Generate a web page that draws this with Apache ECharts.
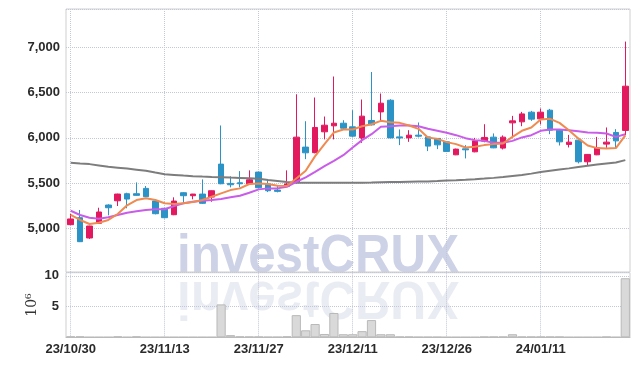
<!DOCTYPE html>
<html><head><meta charset="utf-8">
<script src="https://cdn.jsdelivr.net/npm/echarts@6/dist/echarts.min.js"></script>
<style>html,body{margin:0;padding:0;background:#fff}#c{width:639px;height:366px}</style>
</head><body><div id="c"></div>
<script>
const dates = ['23/10/30','23/10/31','23/11/01','23/11/02','23/11/03','23/11/06','23/11/07','23/11/08','23/11/09','23/11/10',
'23/11/13','23/11/14','23/11/15','23/11/16','23/11/17','23/11/20','23/11/21','23/11/22','23/11/23','23/11/24',
'23/11/27','23/11/28','23/11/29','23/11/30','23/12/01','23/12/04','23/12/05','23/12/06','23/12/07','23/12/08',
'23/12/11','23/12/12','23/12/13','23/12/14','23/12/15','23/12/18','23/12/19','23/12/20','23/12/21','23/12/22',
'23/12/26','23/12/27','23/12/28','24/01/02','24/01/03','24/01/04','24/01/05','24/01/08','24/01/09','24/01/10',
'24/01/11','24/01/12','24/01/15','24/01/16','24/01/17','24/01/18','24/01/19','24/01/22','24/01/23','24/01/24'];

const openP  = [5040,5117,4893,5055,5257,5304,5382,5382,5441,5301, 5221,5150,5393,5360,5378,5345,5709,5496,5503,5492,
                5621,5489,5422,5465,5505,5897,5836,6066,6132,6161, 6121,5999,6191,6286,6415,6010,5999,6029,6010,5993,
                5955,5812,5878,5845,5963,6007,5886,6165,6176,6283, 6209,6305,6084,5927,5974,5735,5812,5930,6059,6081];
const closeP = [5103,4852,5025,5180,5227,5378,5323,5364,5349,5161, 5117,5301,5360,5378,5276,5415,5492,5481,5492,5536,
                5448,5415,5408,5490,6007,5834,6114,6139,6161,6106, 6018,6239,6143,6382,5999,5999,6029,6018,5908,5922,
                5849,5875,5867,5966,6004,5889,6007,6187,6264,6206, 6283,6084,5955,5952,5735,5816,5889,5952,5966,6570];
const lowP   = [5035,4848,4882,5050,5143,5246,5221,5360,5345,5154, 5110,5145,5287,5320,5270,5293,5487,5452,5452,5488,
                5440,5400,5397,5460,5495,5764,5828,5982,5982,6092, 6010,5944,6136,6176,5995,5919,5955,6004,5853,5875,
                5845,5808,5772,5840,5950,5885,5871,6010,6128,6187, 6147,6040,5915,5893,5717,5690,5808,5889,5889,6029];
const highP  = [5158,5202,5028,5227,5265,5382,5393,5507,5467,5320, 5225,5342,5398,5380,5540,5418,6136,5574,5632,5640,
                5625,5533,5478,5640,6481,6183,6445,6235,6677,6194, 6305,6423,6727,6489,6426,6092,6084,6169,6015,5996,
                5960,5880,5919,5999,6150,6048,6026,6242,6286,6297, 6324,6319,6090,6032,5980,5820,6010,6114,6095,7063];

const volume = [0.15,0.15,0.02,0.02,0.02,0.15,0.02,0.15,0.02,0.02, 0.02,0.02,0.02,0.02,0.02,0.02,5.35,0.35,0.12,0.1,
                0.1,0.05,0.05,0.15,3.6,1.14,2.16,0.54,3.95,0.5, 0.5,1.0,2.8,0.5,0.5,0.1,0.1,0.05,0.05,0.05,
                0.02,0.02,0.02,0.02,0.1,0.1,0.1,0.5,0.1,0.1, 0.1,0.1,0.1,0.02,0.02,0.02,0.02,0.1,0.02,9.6];

const maShort = [5147,5092,5047,5062,5092,5158,5254,5312,5331,5312, 5276,5268,5276,5290,5312,5349,5386,5422,5441,5489,
                 5496,5489,5470,5467,5551,5635,5797,5930,6059,6092, 6092,6128,6150,6187,6172,6165,6136,6099,6004,5988,
                 5952,5930,5893,5900,5919,5930,5938,6010,6077,6114, 6202,6209,6165,6084,5993,5915,5886,5882,5886,6026];
const maMid   = [5194,5147,5117,5106,5121,5147,5172,5188,5202,5210, 5210,5246,5276,5293,5304,5312,5323,5342,5360,5393,
                 5430,5441,5441,5459,5514,5563,5624,5687,5746,5808, 5893,5974,6040,6121,6128,6136,6136,6128,6099,6077,
                 6055,6029,5996,5974,5966,5944,5944,5966,6004,6029, 6077,6092,6092,6084,6073,6059,6055,6048,6010,6040];
const maLong  = [5724,5716,5709,5695,5680,5670,5660,5648,5635,5616, 5598,5590,5582,5576,5571,5567,5564,5560,5557,5552,
                 5547,5533,5522,5511,5503,5503,5503,5503,5503,5503, 5503,5504,5505,5508,5511,5512,5514,5516,5518,5522,
                 5527,5531,5536,5542,5549,5557,5566,5577,5588,5604, 5621,5635,5649,5662,5676,5690,5704,5715,5726,5753];

const LABEL_FONT = '"Liberation Sans",Arial,sans-serif';
const UP = '#e3195f', DOWN = '#2b93c6';
const gridLine = {show:true, interval:9, alignWithLabel:true, lineStyle:{type:'dotted', color:'#c4c7d8', width:1}};
const hLine = {show:true, lineStyle:{type:'dotted', color:'#c4c7d8', width:1}};
const labelStyle = {fontFamily:LABEL_FONT, fontSize:13, fontWeight:'bold', color:'#2a2a2a'};

const chart = echarts.init(document.getElementById('c'), null, {renderer:'canvas'});
chart.setOption({
  animation:false,
  backgroundColor:'#fff',
  graphic:[
    {type:'text', x:318, y:257, scaleX:0.93, z:-1, silent:true,
     style:{text:'investCRUX', font:'bold 53px "Liberation Sans"', fill:'#cdd2e7', align:'center', verticalAlign:'middle', textAlign:'center', textVerticalAlign:'middle'}},
    {type:'text', x:318, y:297, scaleX:0.93, scaleY:-1, z:-1, silent:true,
     style:{text:'investCRUX', font:'bold 53px "Liberation Sans"', fill:'#eaecf3', align:'center', verticalAlign:'middle', textAlign:'center', textVerticalAlign:'middle'}}
  ],
  grid:[
    {left:66, right:9, top:9, height:263, show:true, borderColor:'#cfcfcf', borderWidth:1},
    {left:66, right:9, top:272.7, height:64.6, show:true, borderColor:'#cfcfcf', borderWidth:1}
  ],
  xAxis:[
    {type:'category', gridIndex:0, data:dates, boundaryGap:true,
     axisLine:{show:false}, axisTick:{show:false}, axisLabel:{show:false}, splitLine:gridLine},
    {type:'category', gridIndex:1, data:dates, boundaryGap:true,
     axisLine:{show:true, lineStyle:{color:'#bdbdbd'}}, axisTick:{show:false},
     axisLabel:Object.assign({interval:9, margin:6}, labelStyle), splitLine:gridLine}
  ],
  yAxis:[
    {type:'value', gridIndex:0, min:4517, max:7423, splitNumber:5,
     axisLine:{show:false}, axisTick:{show:false}, splitLine:hLine,
     axisLabel:Object.assign({margin:6, showMinLabel:false, showMaxLabel:false,
       formatter:v => v.toLocaleString('en-US')}, labelStyle)},
    {type:'value', gridIndex:1, min:0, max:10.5, interval:5,
     name:'10\u2076', nameLocation:'middle', nameRotate:90, nameGap:27, nameMoveOverlap:false,
     nameTextStyle:{fontFamily:'DejaVu Serif', fontSize:14, color:'#333'},
     axisLine:{show:false}, axisTick:{show:false}, splitLine:hLine,
     axisLabel:Object.assign({margin:7, showMinLabel:false, showMaxLabel:false}, labelStyle)}
  ],
  series:[
    {type:'candlestick', xAxisIndex:0, yAxisIndex:0, barWidth:6,
     data:dates.map((d,i)=>[openP[i], closeP[i], lowP[i], highP[i]]),
     itemStyle:{color:UP, color0:DOWN, borderColor:UP, borderColor0:DOWN, borderWidth:1}},
    {type:'line', xAxisIndex:0, yAxisIndex:0, data:maLong, symbol:'none', lineStyle:{color:'#7d7d7d', width:2}},
    {type:'line', xAxisIndex:0, yAxisIndex:0, data:maMid, symbol:'none', lineStyle:{color:'#c95ce8', width:2}},
    {type:'line', xAxisIndex:0, yAxisIndex:0, data:maShort, symbol:'none', lineStyle:{color:'#ef8a50', width:2}},
    {type:'bar', xAxisIndex:1, yAxisIndex:1, data:volume, barCategoryGap:'2%',
     itemStyle:{color:'#d9d9d9', borderColor:'#b9b9b9', borderWidth:1}}
  ]
});
</script></body></html>
